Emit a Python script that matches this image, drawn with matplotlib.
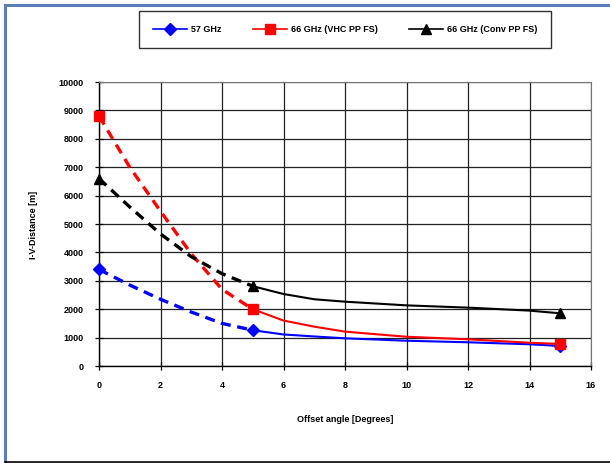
import matplotlib
matplotlib.use("Agg")
import matplotlib.pyplot as plt
from matplotlib.lines import Line2D

plt.rcParams["font.family"] = ["Liberation Sans", "DejaVu Sans"]
plt.rcParams["font.weight"] = "bold"

# dashed part (0..5 deg)
x_near = [0, 1, 2, 3, 4, 5]
v57_near = [3400, 2850, 2350, 1900, 1500, 1260]
vhc_near = [8800, 7000, 5450, 3950, 2700, 2000]
conv_near = [6600, 5600, 4650, 3850, 3250, 2810]

# solid part (5..15 deg)
x_far = [5, 6, 7, 8, 10, 12, 14, 15]
v57_far = [1260, 1110, 1040, 975, 890, 835, 765, 705]
vhc_far = [2000, 1600, 1385, 1210, 1030, 940, 820, 775]
conv_far = [2810, 2535, 2350, 2265, 2135, 2055, 1950, 1855]

labels = ["57 GHz", "66 GHz (VHC PP FS)", "66 GHz (Conv PP FS)"]
colors = ["#0000ff", "#ff0000", "#000000"]
markers = ["D", "s", "^"]
msizes = [6, 7.5, 7.5]

xticks = list(range(0, 17, 2))
yticks = list(range(0, 10001, 1000))

fig = plt.figure(figsize=(6.1, 4.63), dpi=100)
ax = fig.add_axes([99 / 610, 1 - 366 / 463, 492 / 610, 284 / 463])

near = [v57_near, vhc_near, conv_near]
far = [v57_far, vhc_far, conv_far]
for i in range(3):
    c = colors[i]
    ax.plot(x_near, near[i], color=c, lw=2.4, ls=(0, (3, 2)), zorder=3)
    ax.plot(x_far, far[i], color=c, lw=1.5, zorder=3)
    ax.plot([x_near[0], x_far[0], x_far[-1]],
            [near[i][0], far[i][0], far[i][-1]],
            ls="none", marker=markers[i], ms=msizes[i], color=c, zorder=4,
            clip_on=False)

ax.set_xlim(0, 16)
ax.set_ylim(0, 10000)
ax.set_xticks(xticks)
ax.set_yticks(yticks)
ax.grid(True, color="#222222", lw=0.9)
ax.tick_params(direction="inout", length=6, width=0.9, labelsize=6.5, pad=8)
for lab in ax.get_xticklabels() + ax.get_yticklabels():
    lab.set_fontweight("bold")
for s in ["top", "right"]:
    ax.spines[s].set_color("#777777")
for s in ["left", "bottom"]:
    ax.spines[s].set_color("black")
    ax.spines[s].set_linewidth(1.0)

fig.text(345 / 610, 1 - 420 / 463, "Offset angle [Degrees]", ha="center",
         va="center", fontsize=6.5, fontweight="bold")
fig.text(33 / 610, 1 - 225 / 463, "I-V-Distance [m]", rotation=90, ha="center",
         va="center", fontsize=6.5, fontweight="bold")

handles = [Line2D([], [], color=colors[i], marker=markers[i], ms=msizes[i], lw=1.2)
           for i in range(3)]
leg = fig.legend(handles, labels, ncol=3, loc="center",
                 bbox_to_anchor=(345 / 610, 1 - 29.5 / 463),
                 prop={"size": 6.5, "weight": "bold"}, frameon=True,
                 fancybox=False, edgecolor="black", handlelength=3.8,
                 columnspacing=3.5, handletextpad=0.4, borderpad=1.5)
leg.get_frame().set_linewidth(1.0)

# page frame lines
fig.add_artist(Line2D([5 / 610, 1], [1 - 5 / 463, 1 - 5 / 463], color="#5a7fb8", lw=2.2))
fig.add_artist(Line2D([5 / 610, 5 / 610], [0, 1 - 5 / 463], color="#5a7fb8", lw=2.2))
fig.add_artist(Line2D([5 / 610, 1], [1.5 / 463, 1.5 / 463], color="black", lw=1.2))

fig.savefig("out.png", dpi=100)
